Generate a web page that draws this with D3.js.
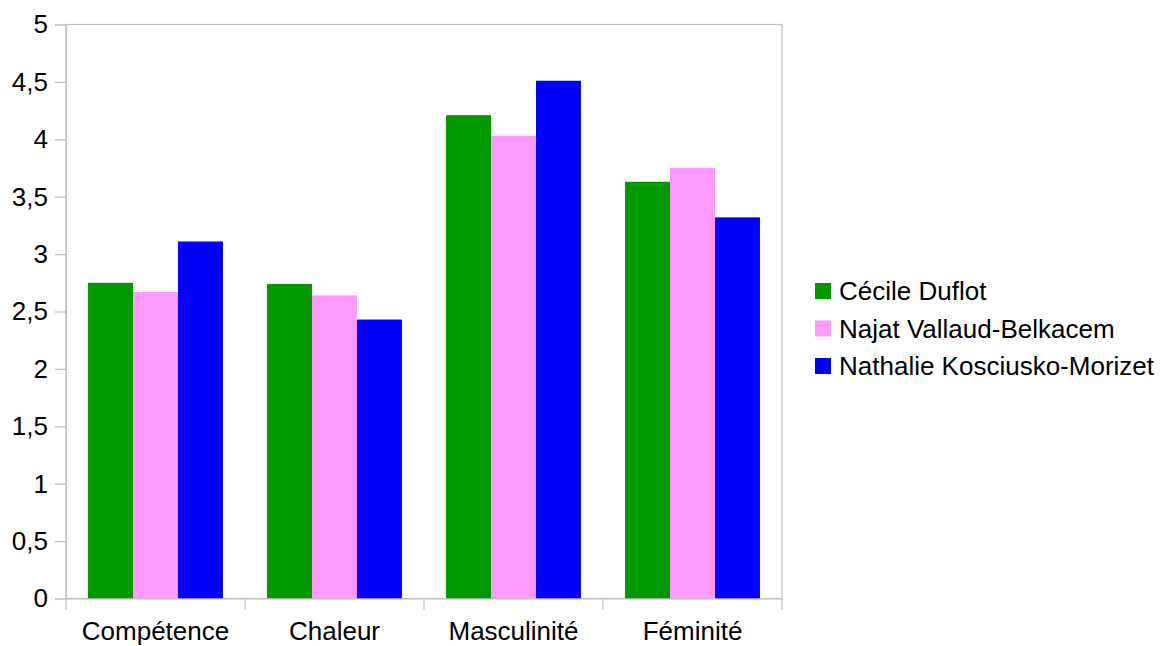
<!DOCTYPE html>
<html><head><meta charset="utf-8">
<script src="https://cdn.jsdelivr.net/npm/d3@7"></script>
<style>body{margin:0;background:#fff}svg{display:block}text{font-family:"Liberation Sans",Arial,sans-serif;fill:#000}</style>
</head><body>
<svg id="c" width="1161" height="646"></svg>
<script>
const categories = ["Compétence", "Chaleur", "Masculinité", "Féminité"];
const seriesNames = ["Cécile Duflot", "Najat Vallaud-Belkacem", "Nathalie Kosciusko-Morizet"];
const seriesColors = ["#009900", "#ff99ff", "#0000ff"];
const duflot = [2.75, 2.74, 4.21, 3.63];
const vallaud = [2.67, 2.64, 4.03, 3.75];
const nkm = [3.11, 2.43, 4.51, 3.32];
const yTicks = [0, 0.5, 1, 1.5, 2, 2.5, 3, 3.5, 4, 4.5, 5];
const yTickLabels = ["0", "0,5", "1", "1,5", "2", "2,5", "3", "3,5", "4", "4,5", "5"];

const series = [duflot, vallaud, nkm];
const svg = d3.select("#c");
const L = 66, R = 782, T = 24.5, B = 598.5;
const fs = 26;

const x = d3.scaleBand().domain(categories).range([L, R]).paddingInner(0).paddingOuter(0);
const inner = d3.scaleBand().domain(d3.range(series.length)).range([0, x.bandwidth()]).paddingOuter(0.49).paddingInner(0);
const y = d3.scaleLinear().domain([0, 5]).range([B, T]);

// frame
svg.append("rect").attr("x", L).attr("y", T).attr("width", R - L).attr("height", B - T)
  .attr("fill", "none").attr("stroke", "#c0c0c0").attr("stroke-width", 1.2);

// bars
series.forEach((vals, si) => {
  svg.append("g").selectAll("rect").data(vals).join("rect")
    .attr("x", (d, i) => x(categories[i]) + inner(si))
    .attr("width", inner.bandwidth())
    .attr("y", d => y(d))
    .attr("height", d => y(0) - y(d))
    .attr("fill", seriesColors[si]);
});

// y axis
const ya = d3.axisLeft(y).tickValues(yTicks).tickFormat((d, i) => yTickLabels[i]).tickSize(11).tickPadding(7);
const yg = svg.append("g").attr("transform", `translate(${L},0)`).call(ya);
yg.select(".domain").attr("stroke", "#c0c0c0").attr("stroke-width", 1.2);
yg.selectAll(".tick line").attr("stroke", "#c0c0c0").attr("stroke-width", 1.2);
yg.selectAll(".tick text").attr("font-size", fs).attr("font-family", "Liberation Sans, Arial, sans-serif").attr("fill", "#000");

// x axis
const xa = d3.axisBottom(x).tickSize(0).tickPadding(23);
const xg = svg.append("g").attr("transform", `translate(0,${B})`).call(xa);
xg.select(".domain").attr("stroke", "#c0c0c0").attr("stroke-width", 1.2);
xg.selectAll(".tick text").attr("font-size", fs).attr("font-family", "Liberation Sans, Arial, sans-serif").attr("fill", "#000");
// category boundary ticks
const bounds = categories.map(c => x(c)).concat([R]);
svg.append("g").selectAll("line").data(bounds).join("line")
  .attr("x1", d => d).attr("x2", d => d).attr("y1", B).attr("y2", B + 11)
  .attr("stroke", "#c0c0c0").attr("stroke-width", 1.2);

// legend
const lg = svg.append("g");
const ly = d3.scalePoint().domain(seriesNames).range([291, 366]);
seriesNames.forEach((n, i) => {
  lg.append("rect").attr("x", 815).attr("y", ly(n) - 8).attr("width", 16).attr("height", 16).attr("fill", seriesColors[i]);
  lg.append("text").attr("x", 839).attr("y", ly(n)).attr("dy", "0.35em").attr("font-size", fs).text(n);
});
</script>
</body></html>
